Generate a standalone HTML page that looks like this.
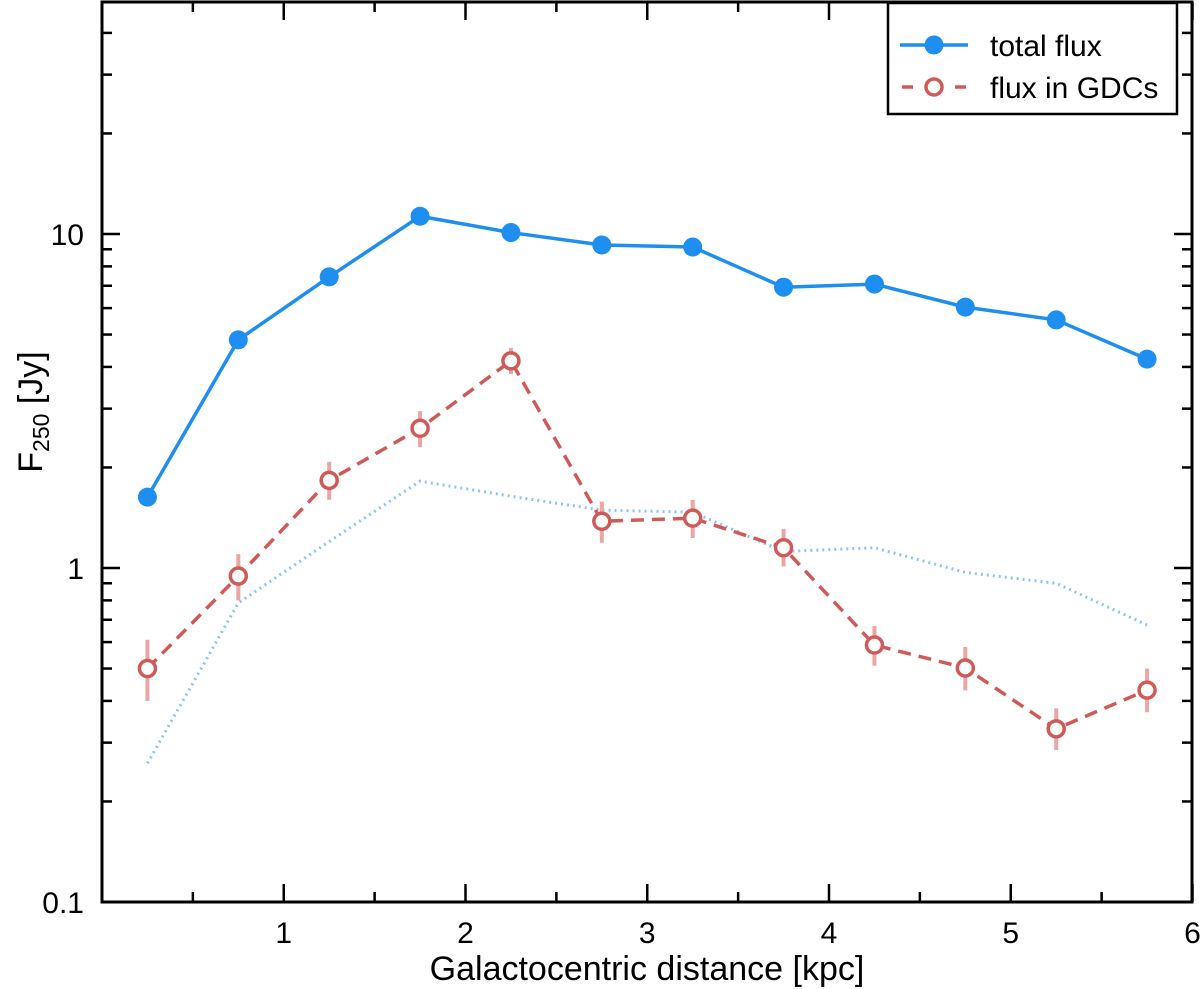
<!DOCTYPE html>
<html><head><meta charset="utf-8"><style>
body{margin:0;background:#fff;}
svg{display:block;font-family:"Liberation Sans",Arial,sans-serif;}
</style></head><body>
<svg id="chart" width="1200" height="989" viewBox="0 0 1200 989">
<g id="plot"></g>
</svg>
<script>
const distances=[0.25,0.75,1.25,1.75,2.25,2.75,3.25,3.75,4.25,4.75,5.25,5.75];
const totalFlux=[1.63,4.82,7.44,11.3,10.1,9.27,9.14,6.93,7.08,6.04,5.53,4.22];
const gdcFlux=[0.50,0.946,1.83,2.62,4.17,1.38,1.41,1.15,0.588,0.502,0.330,0.431];
const gdcErrLow=[0.40,0.80,1.60,2.30,3.81,1.19,1.23,1.01,0.51,0.43,0.285,0.37];
const gdcErrHigh=[0.61,1.10,2.08,2.95,4.56,1.58,1.60,1.31,0.67,0.58,0.38,0.50];
const dottedFlux=[0.26,0.786,1.2,1.82,1.64,1.49,1.47,1.12,1.15,0.97,0.90,0.675];
const xTicks=[1,2,3,4,5,6];
const yTickLabels=["0.1","1","10"];
const yTickVals=[0.1,1,10];

const NS="http://www.w3.org/2000/svg";
const g=document.getElementById('plot');
const X0=102,XS=181.75,Y10=234,DEC=334,L=102,R=1192,T=2,B=902;
const xs=v=>X0+v*XS;
const ys=v=>Y10-(Math.log10(v)-1)*DEC;
function el(tag,attrs,parent){const e=document.createElementNS(NS,tag);for(const k in attrs)e.setAttribute(k,attrs[k]);(parent||g).appendChild(e);return e;}

const frame=el('rect',{x:L,y:T,width:R-L,height:B-T,fill:'none',stroke:'#000','stroke-width':3});



for(let v=0.5;v<=6.01;v+=0.5){
  const x=xs(v),major=Math.abs(v-Math.round(v))<1e-6,len=major?18:10;
  const t1=el('line',{x1:x,x2:x,y1:B,y2:B-len,stroke:'#000','stroke-width':2.5});
  
  
  const t2=el('line',{x1:x,x2:x,y1:T,y2:T+len,stroke:'#000','stroke-width':2.5});
  
  
}
xTicks.forEach(v=>{
  const t=el('text',{x:xs(v),y:B+41,'font-size':30,'text-anchor':'middle',fill:'#000'});
  t.textContent=String(v);
  
  
});
for(let d=-1;d<=1;d++){
  for(let m=1;m<=9;m++){
    const v=m*Math.pow(10,d);const y=ys(v);if(y<T)continue;
    const len=m===1?18:10;
    const a=el('line',{x1:L,x2:L+len,y1:y,y2:y,stroke:'#000','stroke-width':2.5});
    
    
    const b=el('line',{x1:R,x2:R-len,y1:y,y2:y,stroke:'#000','stroke-width':2.5});
    
    
  }
}
yTickVals.forEach((v,i)=>{
  const t=el('text',{x:L-18,y:ys(v)+11,'font-size':30,'text-anchor':'end',fill:'#000'});
  t.textContent=yTickLabels[i];
  
  
});
const xt=el('text',{x:647,y:980,'font-size':34,'text-anchor':'middle',fill:'#000'});
xt.textContent='Galactocentric distance [kpc]';


const yt=el('text',{transform:'translate(42,412) rotate(-90)','font-size':34,'text-anchor':'middle',fill:'#000'});
yt.innerHTML='F<tspan font-size="23" dy="7">250</tspan><tspan dy="-7"> [Jy]</tspan>';



const pts=arr=>arr.map((v,i)=>xs(distances[i])+','+ys(v)).join(' ');
const dl=el('polyline',{points:pts(dottedFlux),fill:'none',stroke:'#8cc4f5','stroke-width':3,'stroke-dasharray':'2 4'});


gdcFlux.forEach((v,i)=>{
  const e=el('line',{x1:xs(distances[i]),x2:xs(distances[i]),y1:ys(gdcErrLow[i]),y2:ys(gdcErrHigh[i]),stroke:'#eaa6a6','stroke-width':4});
  
  
});
const gl=el('polyline',{points:pts(gdcFlux),fill:'none',stroke:'#d05a5a','stroke-width':3.5,'stroke-dasharray':'13 8'});


gdcFlux.forEach((v,i)=>{
  const c=el('circle',{cx:xs(distances[i]),cy:ys(v),r:8,fill:'#fff',stroke:'#d05a5a','stroke-width':3.5});
  
  
});
const tl=el('polyline',{points:pts(totalFlux),fill:'none',stroke:'#1e8ef0','stroke-width':3.5});


totalFlux.forEach((v,i)=>{
  const c=el('circle',{cx:xs(distances[i]),cy:ys(v),r:9.5,fill:'#1e8ef0'});
  
  
});
const lg=el('g',{});


const lb=el('rect',{x:888,y:3,width:289,height:111,fill:'#fff',stroke:'#000','stroke-width':2.5},lg);


const l1=el('line',{x1:900,x2:968,y1:45,y2:45,stroke:'#1e8ef0','stroke-width':3.5},lg);


const c1=el('circle',{cx:934,cy:45,r:9.5,fill:'#1e8ef0'},lg);


const t1=el('text',{x:990,y:56,'font-size':30,fill:'#000'},lg);
t1.textContent='total flux';


const l2=el('line',{x1:902,x2:913,y1:87,y2:87,stroke:'#d05a5a','stroke-width':3.5},lg);


const l2b=el('line',{x1:955,x2:966,y1:87,y2:87,stroke:'#d05a5a','stroke-width':3.5},lg);


const c2=el('circle',{cx:934,cy:87,r:8,fill:'#fff',stroke:'#d05a5a','stroke-width':3.5},lg);


const t2=el('text',{x:990,y:98,'font-size':30,fill:'#000'},lg);
t2.textContent='flux in GDCs';


</script>
</body></html>
